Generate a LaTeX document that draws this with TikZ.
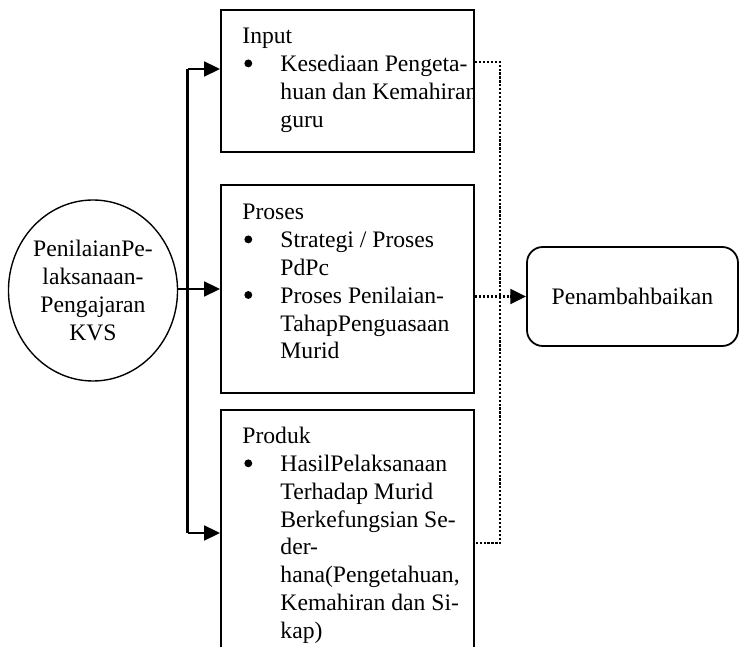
\documentclass[tikz,border=0pt]{standalone}
\usepackage{fontspec}
\setmainfont{Liberation Serif}
\usetikzlibrary{arrows.meta,shapes.geometric,calc}
\newcommand\bul{\makebox[19.3pt][l]{\hspace*{1pt}\raisebox{2.2pt}{\tikz\fill (0,0) circle (2pt);}}}
\newcommand\ind{\hspace*{19.3pt}}
\def\U{0.5074pt}
\begin{document}
\begin{tikzpicture}[x=0.5074pt,y=-0.5074pt,
  txt/.style={font=\fontsize{12pt}{14.1pt}\selectfont},
  box/.style={draw,line width=1pt,inner sep=0pt},
  btxt/.style={txt,anchor=north west,align=left,inner sep=0pt},
  arr/.style={line width=1.1pt,-{Triangle[length=8pt,width=7.5pt]}},
  ln/.style={line width=1.1pt},
  dot/.style={line width=1.3pt,dash pattern=on 1.1pt off 0.9pt},
]
\useasboundingbox (0,0) rectangle (739,647);
\clip (0,0) rectangle (739,647);
% ellipse
\node[draw,ellipse,line width=0.7pt,inner sep=0pt,minimum width={160*\U},minimum height={181*\U},txt,align=center] (ell) at (93,290.5)
  {PenilaianPe-\\laksanaan-\\Pengajaran\\KVS};
% boxes
\node[box,minimum width={253*\U},minimum height={142*\U}] (input) at (347.5,81) {};
\node[box,minimum width={253*\U},minimum height={208*\U}] (proses) at (347.5,289) {};
\node[box,minimum width={253*\U},minimum height={280*\U}] (produk) at (347.5,550) {};
\node[draw,line width=0.9pt,rounded corners=8pt,minimum width={211*\U},minimum height={99*\U},txt] (pen) at (632.5,296.5) {Penambahbaikan};
% box texts
\begin{scope}
\clip (221,0) rectangle (473,647);
\node[btxt] (tin) at (242,28) {Input\\\bul Kesediaan Pengeta-\\\ind huan dan Kemahiran\\\ind guru};
\node[btxt] (tpr) at (242,204) {Proses\\\bul Strategi / Proses\\\ind PdPc\\\bul Proses Penilaian-\\\ind TahapPenguasaan\\\ind Murid};
\node[btxt] (tpd) at (242,427) {Produk\\\bul HasilPelaksanaan\\\ind Terhadap Murid\\\ind Berkefungsian Se-\\\ind der-\\\ind hana(Pengetahuan,\\\ind Kemahiran dan Si-\\\ind kap)};
\end{scope}
% connectors
\coordinate (vt) at (187.5,69);
\coordinate (vb) at (187.5,533);
\draw[ln] (vt) -- (vb);
\draw[arr] (vt) -- (vt -| input.west);
\draw[arr] (vb) -- (vb -| produk.west);
\draw[arr] (ell.east |- proses.west) -- (proses.west);
% dotted feedback
\coordinate (d1) at (500,62);
\coordinate (d2) at (500,543);
\draw[dot] (d1 -| input.east) -- (d1) -- (d2) -- (d2 -| produk.east);
\draw[dot,-{Triangle[length=8pt,width=7.5pt]}] (pen.west -| proses.east) -- (pen.west);
\end{tikzpicture}
\end{document}
